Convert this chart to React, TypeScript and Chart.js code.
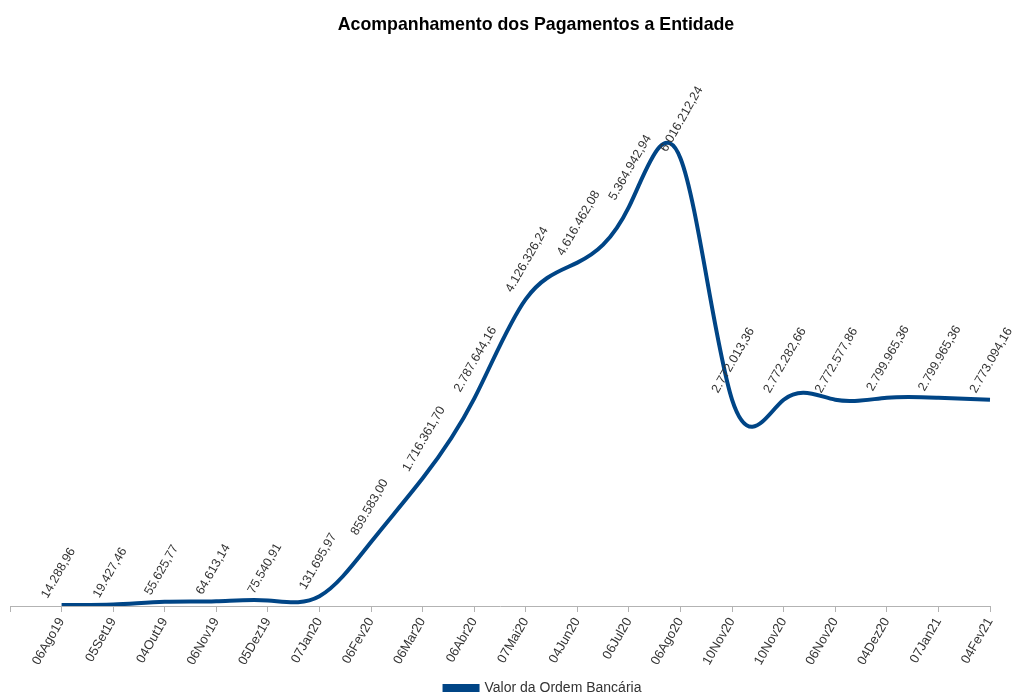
import React, { useEffect, useRef } from "react";
import { Chart, registerables } from "chart.js";

Chart.register(...registerables);

const categories: string[] = [
  "",
  "06Ago19",
  "05Set19",
  "04Out19",
  "06Nov19",
  "05Dez19",
  "07Jan20",
  "06Fev20",
  "06Mar20",
  "06Abr20",
  "07Mai20",
  "04Jun20",
  "06Jul20",
  "06Ago20",
  "10Nov20",
  "10Nov20",
  "06Nov20",
  "04Dez20",
  "07Jan21",
  "04Fev21",
];

const valores: (number | null)[] = [
  null,
  14288.96,
  19427.46,
  55625.77,
  64613.14,
  75540.91,
  131695.97,
  859583.0,
  1716361.7,
  2787644.16,
  4126326.24,
  4616462.08,
  5364942.94,
  6016212.24,
  2772013.36,
  2772282.66,
  2772577.86,
  2799965.36,
  2799965.36,
  2773094.16,
];

const seriesName = "Valor da Ordem Bancária";
const chartTitle = "Acompanhamento dos Pagamentos a Entidade";

function formatBR(v: number): string {
  const fixed = v.toFixed(2);
  const [intPart, dec] = fixed.split(".");
  const withDots = intPart.replace(/\B(?=(\d{3})+(?!\d))/g, ".");
  return withDots + "," + dec;
}

const FONT = "'Liberation Sans', Arial, sans-serif";

// Natural cubic spline control points (like the office-suite "cubic spline" smoothing)
const splinePlugin = {
  id: "naturalSpline",
  beforeDatasetDraw(chart: any, args: any) {
    const meta = chart.getDatasetMeta(args.index);
    const line = meta.dataset;
    if (!line) return;
    line.updateControlPoints(chart.chartArea, "x");
    const pts = meta.data.filter((p: any) => !p.skip);
    const n = pts.length - 1;
    if (n < 1) return;
    const h: number[] = [];
    for (let i = 0; i < n; i++) h.push(pts[i + 1].x - pts[i].x);
    const a: number[] = new Array(n + 1).fill(0);
    const b: number[] = new Array(n + 1).fill(0);
    const c: number[] = new Array(n + 1).fill(0);
    const d: number[] = new Array(n + 1).fill(0);
    b[0] = 2 / h[0];
    c[0] = 1 / h[0];
    d[0] = (3 * (pts[1].y - pts[0].y)) / (h[0] * h[0]);
    for (let i = 1; i < n; i++) {
      a[i] = 1 / h[i - 1];
      b[i] = 2 * (1 / h[i - 1] + 1 / h[i]);
      c[i] = 1 / h[i];
      d[i] =
        3 *
        ((pts[i].y - pts[i - 1].y) / (h[i - 1] * h[i - 1]) +
          (pts[i + 1].y - pts[i].y) / (h[i] * h[i]));
    }
    a[n] = 1 / h[n - 1];
    b[n] = 2 / h[n - 1];
    d[n] = (3 * (pts[n].y - pts[n - 1].y)) / (h[n - 1] * h[n - 1]);
    const cp: number[] = new Array(n + 1).fill(0);
    const dp: number[] = new Array(n + 1).fill(0);
    cp[0] = c[0] / b[0];
    dp[0] = d[0] / b[0];
    for (let i = 1; i <= n; i++) {
      const m = b[i] - a[i] * cp[i - 1];
      cp[i] = c[i] / m;
      dp[i] = (d[i] - a[i] * dp[i - 1]) / m;
    }
    const k: number[] = new Array(n + 1).fill(0);
    k[n] = dp[n];
    for (let i = n - 1; i >= 0; i--) k[i] = dp[i] - cp[i] * k[i + 1];
    for (let i = 0; i <= n; i++) {
      const p = pts[i];
      const hb = i > 0 ? h[i - 1] : 0;
      const ha = i < n ? h[i] : 0;
      p.cp1x = p.x - hb / 3;
      p.cp1y = p.y - (k[i] * hb) / 3;
      p.cp2x = p.x + ha / 3;
      p.cp2y = p.y + (k[i] * ha) / 3;
    }
    line._path = undefined;
  },
};

const dataLabelPlugin = {
  id: "dataLabels",
  afterDatasetsDraw(chart: any) {
    const meta = chart.getDatasetMeta(0);
    const ctx = chart.ctx;
    ctx.save();
    ctx.font = `12.5px ${FONT}`;
    ctx.fillStyle = "#333333";
    ctx.textAlign = "left";
    ctx.textBaseline = "alphabetic";
    meta.data.forEach((el: any, i: number) => {
      const v = valores[i];
      if (v === null || v === undefined) return;
      const yPix = chart.scales.y.getPixelForValue(v);
      ctx.save();
      ctx.translate(el.x - 14, yPix - 6);
      ctx.rotate(-Math.PI / 3);
      ctx.fillText(formatBR(v), 0, 0);
      ctx.restore();
    });
    ctx.restore();
  },
};

const shiftPlugin = {
  id: "shiftBlocks",
  afterLayout(chart: any) {
    if (chart.titleBlock) {
      chart.titleBlock.left += 36;
      chart.titleBlock.right += 36;
    }
    if (chart.legend) {
      chart.legend.left += 43;
      chart.legend.right += 43;
      chart.legend.top += 12;
      chart.legend.bottom += 12;
    }
  },
};

export default function App() {
  const ref = useRef<HTMLCanvasElement | null>(null);

  useEffect(() => {
    if (!ref.current) return;
    const chart = new Chart(ref.current, {
      type: "line",
      data: {
        labels: categories,
        datasets: [
          {
            label: seriesName,
            data: valores,
            borderColor: "#004586",
            backgroundColor: "#004586",
            borderWidth: 4,
            pointRadius: 0,
            tension: 0.4,
            fill: false,
          },
        ],
      },
      options: {
        animation: false,
        responsive: true,
        maintainAspectRatio: false,
        layout: { padding: { left: 10, right: 23, top: 0, bottom: 0 } },
        plugins: {
          title: {
            display: true,
            text: chartTitle,
            color: "#000000",
            font: { family: FONT, size: 17.75, weight: "bold" },
            padding: { top: 14, bottom: 50 },
          },
          legend: {
            display: true,
            position: "bottom",
            labels: {
              color: "#333333",
              font: { family: FONT, size: 14 },
              boxWidth: 33,
              boxHeight: 4,
              padding: 0,
            },
          },
          tooltip: { enabled: false },
        },
        scales: {
          x: {
            offset: false,
            grid: {
              drawOnChartArea: false,
              drawTicks: true,
              tickLength: 6,
              color: "#b3b3b3",
            },
            border: { display: true, color: "#b3b3b3", width: 1 },
            ticks: {
              autoSkip: false,
              maxRotation: 60,
              minRotation: 60,
              padding: 3,
              color: "#333333",
              font: { family: FONT, size: 13 },
            },
            afterFit: (s: any) => {
              s.height = 63;
            },
          },
          y: {
            display: false,
            min: 0,
            max: 7000000,
          },
        },
      },
      plugins: [splinePlugin, dataLabelPlugin, shiftPlugin],
    });
    return () => chart.destroy();
  }, []);

  return (
    <div style={{ position: "fixed", left: 0, top: 0, width: 1013, height: 693, background: "#fff" }}>
      <canvas ref={ref} />
    </div>
  );
}
